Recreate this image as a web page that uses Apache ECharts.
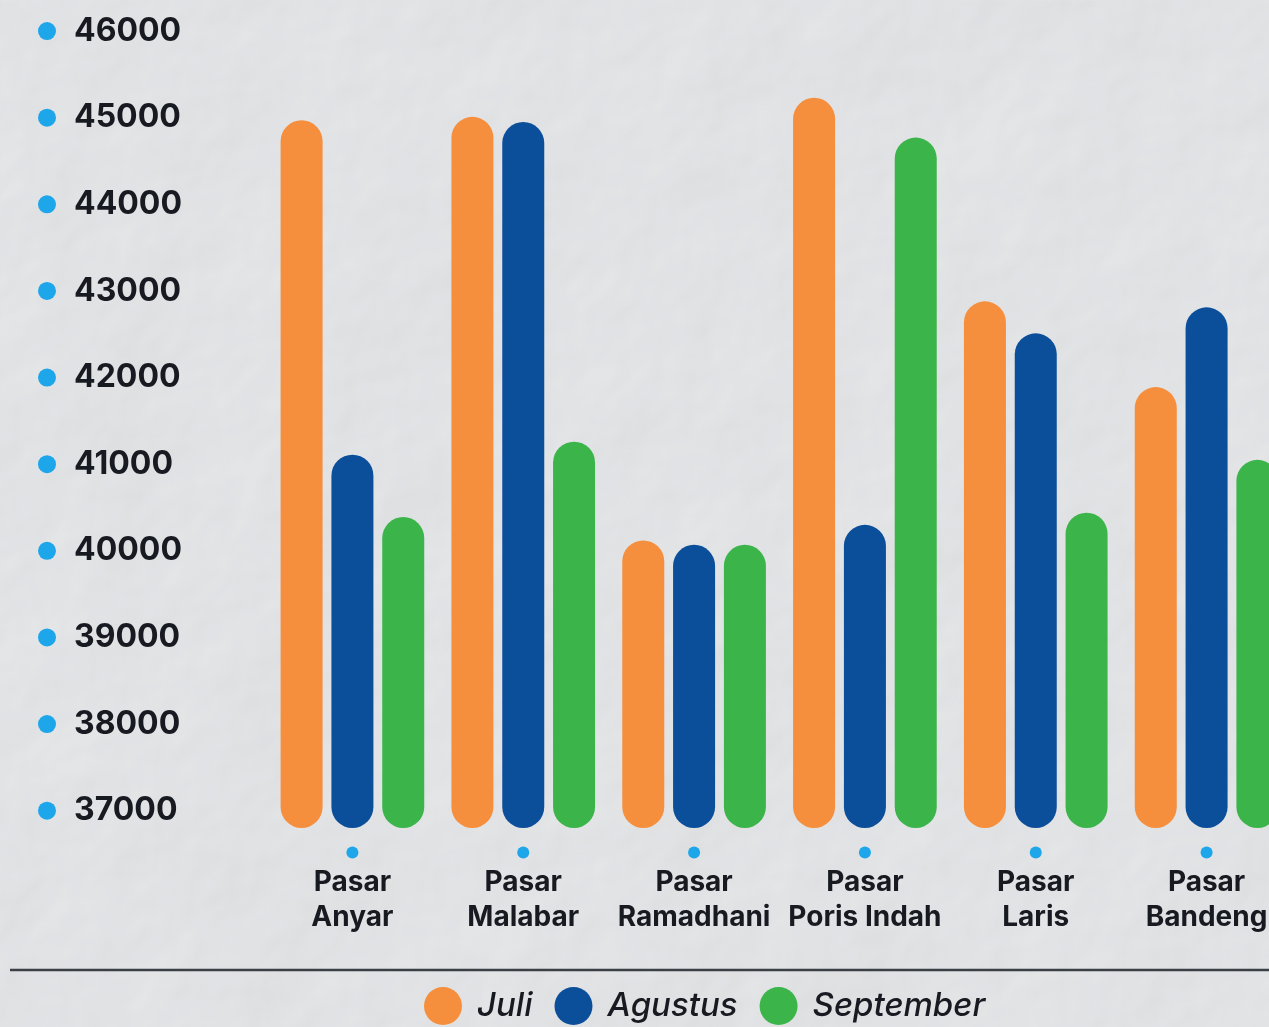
<!DOCTYPE html>
<html>
<head>
<meta charset="utf-8">
<script src="https://cdn.jsdelivr.net/npm/echarts@6/dist/echarts.min.js"></script>
<style>
  html, body { margin: 0; padding: 0; width: 1269px; height: 1027px; overflow: hidden; background: #e4e7eb; }
  #paper { position: absolute; left: 0; top: 0; width: 1269px; height: 1027px; }
  /* the plot runs on past the right edge, so the last group is cut off */
  #chart { position: absolute; left: 0; top: 0; width: 1292px; height: 1027px; }
</style>
</head>
<body>
<!-- crumpled paper backdrop -->
<svg id="paper" xmlns="http://www.w3.org/2000/svg" width="1269" height="1027">
  <filter id="crumple" x="0" y="0" width="100%" height="100%">
    <feTurbulence type="fractalNoise" baseFrequency="0.004" numOctaves="5" seed="7" result="noise"/>
    <feDiffuseLighting in="noise" lighting-color="#f3f4f6" surfaceScale="4" result="lit">
      <feDistantLight azimuth="225" elevation="56"/>
    </feDiffuseLighting>
  </filter>
  <rect width="1269" height="1027" fill="#e6e8eb"/>
  <rect width="1269" height="1027" filter="url(#crumple)" opacity="0.75"/>
</svg>
<div id="chart"></div>
<script>
// Markets along the x axis (two-line labels)
const markets = ['Pasar\nAnyar', 'Pasar\nMalabar', 'Pasar\nRamadhani', 'Pasar\nPoris Indah', 'Pasar\nLaris', 'Pasar\nBandeng'];

// Monthly values per market
const juli      = [44970, 45010, 40120, 45230, 42880, 41890];
const agustus   = [41110, 44950, 40070, 40300, 42510, 42810];
const september = [40390, 41260, 40070, 44770, 40440, 41050];

// Labelled values on the y axis
const yTicks = [37000, 38000, 39000, 40000, 41000, 42000, 43000, 44000, 45000, 46000];

const seriesNames = ['Juli', 'Agustus', 'September'];
const seriesColors = ['#f58f3d', '#0b4f9b', '#3bb54a'];
const seriesData = [juli, agustus, september];

const textColor = '#171a20';
const dotColor = '#1ea6ea';

const chart = echarts.init(document.getElementById('chart'), null, { renderer: 'canvas' });

const option = {
  backgroundColor: 'transparent',
  animation: false,
  grid: { left: 267, right: 0, top: 13.7, bottom: 1027 - 828 },
  legend: {
    left: 419,
    top: 982,
    icon: 'circle',
    itemWidth: 38,
    itemHeight: 38,
    itemGap: 22,
    selectedMode: false,
    textStyle: {
      fontFamily: 'Inter',
      fontSize: 33,
      fontStyle: 'italic',
      fontWeight: 500,
      color: textColor,
      padding: [0, 0, 0, 10]
    },
    data: seriesNames
  },
  xAxis: {
    type: 'category',
    data: markets,
    axisLine: { show: false },
    axisTick: { show: false },
    axisLabel: {
      interval: 0,
      margin: 12,
      formatter: function (v) {
        const lines = v.split('\n');
        return '{d| }\n' + lines.map(l => '{t|' + l + '}').join('\n');
      },
      rich: {
        d: { width: 12, height: 12, borderRadius: 6, backgroundColor: dotColor, lineHeight: 25, align: 'center' },
        t: { fontFamily: 'Inter', fontSize: 28, fontWeight: 700, color: textColor, lineHeight: 35, align: 'center' }
      }
    }
  },
  yAxis: {
    type: 'value',
    min: 36800,
    max: 46200,
    splitLine: { show: false },
    axisLine: { show: false },
    axisTick: { show: false },
    axisLabel: {
      customValues: yTicks,
      align: 'left',
      margin: 229,
      formatter: function (v) { return '{d| }{v|' + v + '}'; },
      rich: {
        d: { width: 18, height: 18, borderRadius: 9, backgroundColor: dotColor },
        v: { fontFamily: 'Inter', fontSize: 32, fontWeight: 700, color: textColor, padding: [0, 0, 0, 18] }
      }
    }
  },
  graphic: [
    {
      type: 'line',
      shape: { x1: 10, y1: 970, x2: 1292, y2: 970 },
      style: { stroke: '#3b3f46', lineWidth: 2.5 },
      silent: true
    }
  ],
  series: seriesNames.map((name, i) => ({
    name: name,
    type: 'bar',
    data: seriesData[i],
    barWidth: 42,
    barGap: '21%',
    itemStyle: { color: seriesColors[i], borderRadius: 21 }
  }))
};

chart.setOption(option);
</script>
</body>
</html>
